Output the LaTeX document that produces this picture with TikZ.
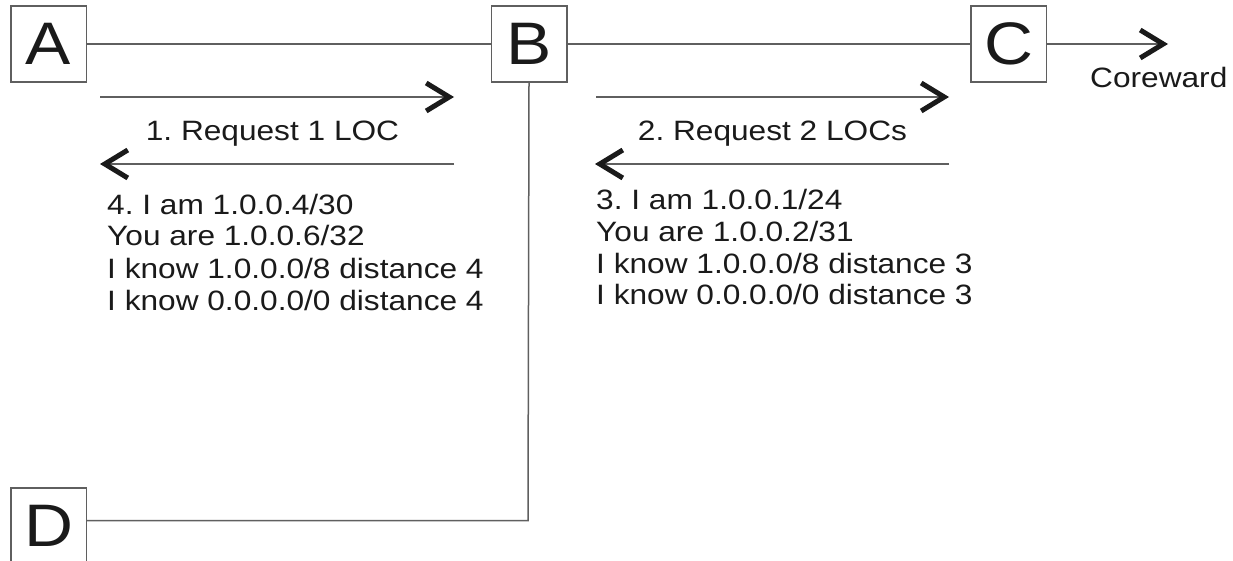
\documentclass[tikz,border=0pt]{standalone}
\usepackage{fontspec}
\setmainfont{Liberation Sans}[FakeStretch=1.13]
\usetikzlibrary{arrows.meta}
\frenchspacing
\definecolor{linegray}{HTML}{5F5F5F}
\definecolor{ink}{HTML}{1A1A1A}
\tikzset{
  nodebox/.style={draw=linegray, line width=1.5pt, minimum width=75.5pt, minimum height=76pt, inner sep=0pt, font=\fontsize{60}{60}\selectfont, text=ink},
  link/.style={draw=linegray, line width=1.5pt},
  msg/.style={link, -{Straight Barb[length=23pt,width=28pt,line width=5pt,color=ink]}},
  lbl/.style={font=\fontsize{28}{31}\selectfont\frenchspacing, text=ink, inner sep=0pt},
}
\begin{document}
\begin{tikzpicture}[x=1pt,y=-1pt]
\useasboundingbox (0,0) rectangle (1233,561);
% nodes
\node[nodebox] (A) at (48.5,44) {A};
\node[nodebox] (B) at (529,44) {B};
\node[nodebox] (C) at (1008.5,44) {C};
\node[nodebox] (D) at (48.5,526) {D};
% backbone links
\coordinate (core) at (1168,44);
\coordinate (bend) at (528,520.5);
\draw[link] (A) -- (B);
\draw[link] (B) -- (C);
\draw[msg] (C) -- (core);
\draw[link] (B.south) -- (bend) -- (D.east |- bend);
\node[lbl, anchor=base west] (cw) at (1090,88) {Coreward};
% message arrows A <-> B
\coordinate (p1s) at (100,97);  \coordinate (p1e) at (454,97);
\coordinate (p4s) at (454,164); \coordinate (p4e) at (100,164);
\draw[msg] (p1s) -- (p1e);
\draw[msg] (p4s) -- (p4e);
% message arrows B <-> C
\coordinate (p2s) at (596,97);  \coordinate (p2e) at (949,97);
\coordinate (p3s) at (949,164); \coordinate (p3e) at (595,164);
\draw[msg] (p2s) -- (p2e);
\draw[msg] (p3s) -- (p3e);
% labels
\node[lbl, anchor=base] (m1) at (272.5,141) {1. Request 1 LOC};
\node[lbl, anchor=base] (m2) at (772.5,141) {2. Request 2 LOCs};
% reply from B to A
\node[lbl, anchor=base west] (l1) at (107,215) {4. I am 1.0.0.4/30};
\node[lbl, anchor=base west] (l2) at (107,246) {You are 1.0.0.6/32};
\node[lbl, anchor=base west] (l3) at (107,278) {I know 1.0.0.0/8 distance 4};
\node[lbl, anchor=base west] (l4) at (107,310) {I know 0.0.0.0/0 distance 4};
% reply from C to B
\node[lbl, anchor=base west] (r1) at (596,210) {3. I am 1.0.0.1/24};
\node[lbl, anchor=base west] (r2) at (596,241) {You are 1.0.0.2/31};
\node[lbl, anchor=base west] (r3) at (596,273) {I know 1.0.0.0/8 distance 3};
\node[lbl, anchor=base west] (r4) at (596,304) {I know 0.0.0.0/0 distance 3};
\end{tikzpicture}
\end{document}
